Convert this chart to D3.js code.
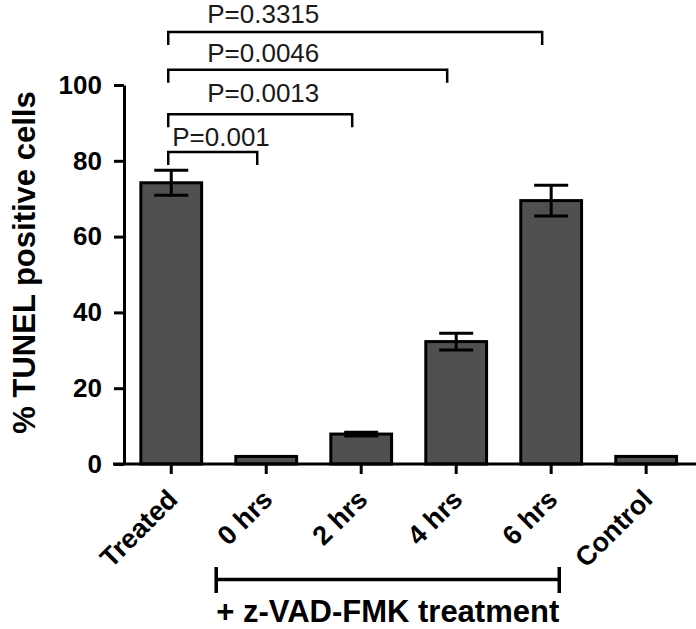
<!DOCTYPE html>
<html>
<head>
<meta charset="utf-8">
<script src="https://cdn.jsdelivr.net/npm/d3@7"></script>
<style>
  html, body { margin: 0; padding: 0; background: #fff; }
  #chart { width: 696px; height: 629px; }
  text { font-family: "Liberation Sans", Arial, sans-serif; }
</style>
</head>
<body>
<div id="chart"></div>
<script>
// 数据
const categories = ['Treated', '0 hrs', '2 hrs', '4 hrs', '6 hrs', 'Control'];
const means = [74.2, 2.0, 7.9, 32.3, 69.5, 2.0];
const errors = [3.3, 0, 0.5, 2.2, 4.05, 0];
const yTicks = [0, 20, 40, 60, 80, 100];

// P值标注
const pLabels = ['P=0.001', 'P=0.0013', 'P=0.0046', 'P=0.3315'];
const pTargets = ['0 hrs', '2 hrs', '4 hrs', '6 hrs'];
const pLevels = [82.3, 92.3, 104, 114];
const pTextLevels = [84.0, 95.6, 106.0, 116.3];

const treatGroup = ['0 hrs', '6 hrs'];
const treatLabel = '+ z-VAD-FMK treatment';
const yTitle = '% TUNEL positive cells';

window.onload = () => {
    const width = 696;
    const height = 629;
    const margin = { top: 85, right: 3, bottom: 165, left: 124 };
    const labelDx = [1, 36, 36, 36];

    const svg = d3.select('#chart')
        .append('svg')
        .attr('width', width)
        .attr('height', height);

    // 比例尺
    const xScale = d3.scaleBand()
        .domain(categories)
        .range([margin.left + 0.7, 692.7])
        .paddingInner(0.36)
        .paddingOuter(0.17);
    const yScale = d3.scaleLinear()
        .domain([0, 100])
        .range([height - margin.bottom, margin.top]);

    const cx = c => xScale(c) + xScale.bandwidth() / 2;
    const y0 = yScale(0);

    // 柱子
    svg.selectAll('.bar')
        .data(categories)
        .enter()
        .append('rect')
        .attr('class', 'bar')
        .attr('x', d => xScale(d))
        .attr('y', (d, i) => yScale(means[i]))
        .attr('width', xScale.bandwidth())
        .attr('height', (d, i) => y0 - yScale(means[i]))
        .attr('fill', '#505050')
        .attr('stroke', '#000')
        .attr('stroke-width', 3);

    // 误差线
    const eb = svg.selectAll('.err')
        .data(categories.filter((d, i) => errors[i] > 0))
        .enter()
        .append('g')
        .attr('class', 'err')
        .attr('stroke', '#000')
        .attr('stroke-width', 3);
    const idx = d => categories.indexOf(d);
    eb.append('line')
        .attr('x1', d => cx(d)).attr('x2', d => cx(d))
        .attr('y1', d => yScale(means[idx(d)] + errors[idx(d)]))
        .attr('y2', d => yScale(means[idx(d)] - errors[idx(d)]));
    eb.append('line')
        .attr('x1', d => cx(d) - 17).attr('x2', d => cx(d) + 17)
        .attr('y1', d => yScale(means[idx(d)] + errors[idx(d)]))
        .attr('y2', d => yScale(means[idx(d)] + errors[idx(d)]));
    eb.append('line')
        .attr('x1', d => cx(d) - 17).attr('x2', d => cx(d) + 17)
        .attr('y1', d => yScale(means[idx(d)] - errors[idx(d)]))
        .attr('y2', d => yScale(means[idx(d)] - errors[idx(d)]));

    // Y轴
    const yAxis = svg.append('g')
        .attr('transform', `translate(${margin.left}, 0)`)
        .call(d3.axisLeft(yScale).tickValues(yTicks).tickSize(10).tickPadding(12).tickSizeOuter(0));
    yAxis.select('.domain').attr('stroke-width', 3);
    yAxis.selectAll('.tick line').attr('stroke-width', 3);
    yAxis.selectAll('.tick text')
        .attr('font-size', 26)
        .attr('font-weight', 'bold')
        .attr('fill', '#000')
        .attr('font-family', '"Liberation Sans", Arial, sans-serif');

    // X轴
    const xAxis = svg.append('g')
        .attr('transform', `translate(0, ${y0})`)
        .call(d3.axisBottom(xScale).tickSize(10).tickSizeOuter(0));
    xAxis.select('.domain')
        .attr('d', `M${margin.left - 11},0H${width}`)
        .attr('stroke-width', 3);
    xAxis.selectAll('.tick line').attr('stroke-width', 3);
    xAxis.selectAll('.tick text')
        .attr('y', 0)
        .attr('dy', 0)
        .attr('transform', 'translate(8, 37) rotate(-45)')
        .attr('text-anchor', 'end')
        .attr('font-size', 27)
        .attr('font-weight', 'bold')
        .attr('fill', '#000')
        .attr('font-family', '"Liberation Sans", Arial, sans-serif');

    // Y轴标题
    svg.append('text')
        .attr('transform', `translate(35, ${(88 + 437) / 2}) rotate(-90)`)
        .attr('text-anchor', 'middle')
        .attr('font-size', 31)
        .attr('font-weight', 'bold')
        .text(yTitle);

    // P值括号
    const left = cx('Treated') - 3;
    pTargets.forEach((t, i) => {
        const yb = yScale(pLevels[i]);
        const right = cx(t) - 9;
        svg.append('path')
            .attr('d', `M${left},${yb + 13}V${yb}H${right}V${yb + 13}`)
            .attr('fill', 'none')
            .attr('stroke', '#000')
            .attr('stroke-width', 2.5);
        svg.append('text')
            .attr('x', cx('Treated') + labelDx[i])
            .attr('y', yScale(pTextLevels[i]))
            .attr('font-size', 26)
            .attr('fill', '#1a1a1a')
            .text(pLabels[i]);
    });

    // 处理组括号 + 说明
    const cap = svg.append('text')
        .attr('x', cx(treatGroup[0]) - 50)
        .attr('y', 622)
        .attr('font-size', 31)
        .attr('font-weight', 'bold')
        .text(treatLabel);
    const capLen = cap.node().getComputedTextLength();
    const bx1 = cx(treatGroup[0]) - 50;
    const bx2 = bx1 + capLen;
    svg.append('path')
        .attr('d', `M${bx1},567V593M${bx1},579.5H${bx2}M${bx2},567V593`)
        .attr('fill', 'none')
        .attr('stroke', '#000')
        .attr('stroke-width', 3.5);
}
</script>
</body>
</html>
